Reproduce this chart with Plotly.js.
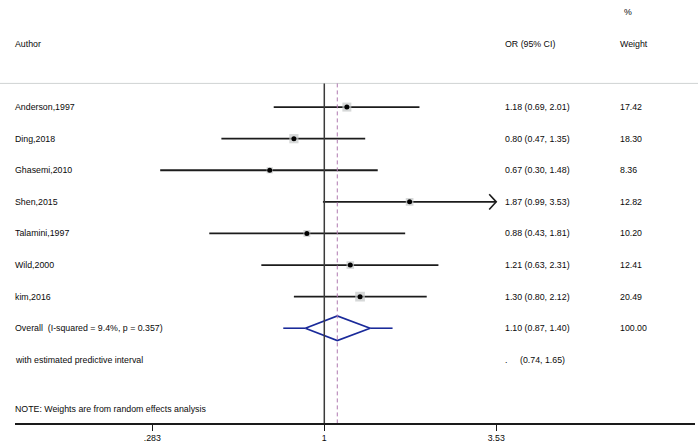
<!DOCTYPE html>
<html><head><meta charset="utf-8">
<script src="https://cdn.plot.ly/plotly-3.0.1.min.js"></script>
<style>html,body{margin:0;padding:0;background:#fff}#chart{width:698px;height:443px}</style>
</head><body><div id="chart"></div>
<script>
// ---- data ----
var studies = ["Anderson,1997","Ding,2018","Ghasemi,2010","Shen,2015","Talamini,1997","Wild,2000","kim,2016"];
var orEst = [1.18, 0.80, 0.67, 1.87, 0.88, 1.21, 1.30];
var ciLow = [0.69, 0.47, 0.30, 0.99, 0.43, 0.63, 0.80];
var ciHigh = [2.01, 1.35, 1.48, 3.53, 1.81, 2.31, 2.12];
var weights = [17.42, 18.30, 8.36, 12.82, 10.20, 12.41, 20.49];
var orLabels = ["1.18 (0.69, 2.01)","0.80 (0.47, 1.35)","0.67 (0.30, 1.48)","1.87 (0.99, 3.53)","0.88 (0.43, 1.81)","1.21 (0.63, 2.31)","1.30 (0.80, 2.12)"];
var weightLabels = ["17.42","18.30","8.36","12.82","10.20","12.41","20.49"];
var overallLabel = "Overall  (I-squared = 9.4%, p = 0.357)";
var overallEst = 1.10, overallLow = 0.87, overallHigh = 1.40;
var overallText = "1.10 (0.87, 1.40)", overallWeight = "100.00";
var predLabel = "with estimated predictive interval";
var predLow = 0.74, predHigh = 1.65;
var predText = "(0.74, 1.65)";
var noteText = "NOTE: Weights are from random effects analysis";
var tickVals = [0.283, 1, 3.53];
var tickText = [".283", "1", "3.53"];
var axisMaxClip = 3.53;

// ---- layout helpers ----
var W = 698, H = 443, ML = 15, MR = 3, MT = 0, MB = 20;
var PW = W - ML - MR;
function px(p){ return (p - ML) / PW; }
var FONT = "Liberation Sans, Arial, sans-serif";
var FS = 8.8, TC = "#0a0a0a";

var traces = [];
var nS = studies.length;
var rows = studies.map(function(_, i){ return i; });
var overallRow = nS, predRow = nS + 1, noteRow = nS + 2.55;

// CI lines
for (var i = 0; i < nS; i++) {
  traces.push({x:[ciLow[i], Math.min(ciHigh[i], axisMaxClip)], y:[rows[i], rows[i]], mode:"lines",
    line:{color:"#1c1c1c", width:1.8}, hoverinfo:"skip", showlegend:false});
}
// arrow for clipped CI (Shen)
var arrowDx = Math.exp(7/136.3), arrowDy = 0.24;
for (var i = 0; i < nS; i++) {
  if (ciHigh[i] >= axisMaxClip) {
    traces.push({x:[axisMaxClip/arrowDx, axisMaxClip, axisMaxClip/arrowDx], y:[rows[i]-arrowDy, rows[i], rows[i]+arrowDy],
      mode:"lines", line:{color:"#1c1c1c", width:1.6}, hoverinfo:"skip", showlegend:false});
  }
}
// weight squares
traces.push({x:orEst, y:rows, mode:"markers", type:"scatter",
  marker:{symbol:"square", size:weights.map(function(w){return 2.15*Math.sqrt(w);}), color:"#c4c8c8", line:{width:0}},
  hoverinfo:"skip", showlegend:false});
// point estimates
traces.push({x:orEst, y:rows, mode:"markers", type:"scatter",
  marker:{symbol:"circle", size:5, color:"#000"}, hoverinfo:"skip", showlegend:false});
// predictive interval lines (blue)
traces.push({x:[predLow, overallLow], y:[overallRow, overallRow], mode:"lines", line:{color:"#1a2a9a", width:1.6}, hoverinfo:"skip", showlegend:false});
traces.push({x:[overallHigh, predHigh], y:[overallRow, overallRow], mode:"lines", line:{color:"#1a2a9a", width:1.6}, hoverinfo:"skip", showlegend:false});
// diamond
var dh = 0.39;
traces.push({x:[overallLow, overallEst, overallHigh, overallEst, overallLow], y:[overallRow, overallRow-dh, overallRow, overallRow+dh, overallRow],
  mode:"lines", line:{color:"#1a2a9a", width:1.8}, hoverinfo:"skip", showlegend:false});

// ---- annotations ----
var ann = [];
function txt(xp, y, s){ ann.push({xref:"paper", yref:"y", x:px(xp-2), y:y, text:s, showarrow:false, xanchor:"left", yanchor:"middle", font:{family:FONT, size:FS, color:TC}}); }
txt(15, -2, "Author");
txt(505, -2, "OR (95% CI)");
txt(620, -2, "Weight");
txt(624, -3, "%");
for (var i = 0; i < nS; i++) {
  txt(15, rows[i], studies[i]);
  txt(505, rows[i], orLabels[i]);
  txt(620, rows[i], weightLabels[i]);
}
txt(15, overallRow, overallLabel);
txt(505, overallRow, overallText);
txt(620, overallRow, overallWeight);
txt(15, predRow, predLabel);
txt(505, predRow, ".");
txt(520, predRow, predText);
txt(15, noteRow, noteText);

// ---- shapes (shape x uses data values on log axes) ----
var shapes = [
  {type:"line", xref:"paper", yref:"y", x0:-ML/PW, x1:1+MR/PW, y0:-0.75, y1:-0.75, line:{color:"#cfd3d3", width:1}},
  {type:"line", xref:"x", yref:"y", x0:1, x1:1, y0:-0.75, y1:10, line:{color:"#3a3a3a", width:1.5}},
  {type:"line", xref:"x", yref:"y", x0:overallEst, x1:overallEst, y0:-0.75, y1:10, line:{color:"#b07ab0", width:1, dash:"4px,3px"}}
];

var layout = {
  width:W, height:H, margin:{l:ML, r:MR, t:MT, b:MB},
  paper_bgcolor:"#fff", plot_bgcolor:"#fff",
  showlegend:false,
  xaxis:{type:"log", range:[(15-324.3)/313.84, (695-324.3)/313.84], tickvals:tickVals, ticktext:tickText,
    showgrid:false, zeroline:false, showline:true, linecolor:"#1a1a1a", linewidth:1.5,
    ticks:"outside", ticklen:6, tickwidth:1.2, tickcolor:"#1a1a1a",
    tickfont:{family:FONT, size:FS, color:TC}, fixedrange:true},
  yaxis:{range:[10, -3.39], showgrid:false, zeroline:false, showline:false, showticklabels:false, ticks:"", fixedrange:true},
  annotations:ann, shapes:shapes
};
Plotly.newPlot("chart", traces, layout, {displayModeBar:false, staticPlot:true});
</script></body></html>
